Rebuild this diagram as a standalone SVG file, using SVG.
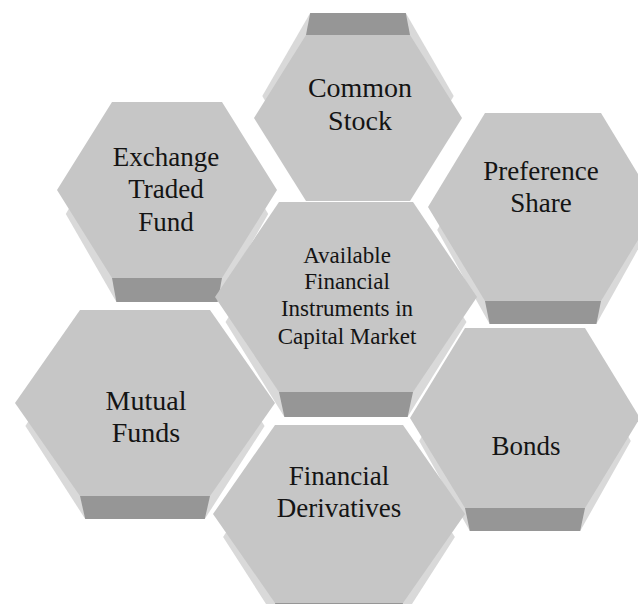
<svg xmlns="http://www.w3.org/2000/svg" width="638" height="604" viewBox="0 0 638 604">
<style>
.face{fill:#c6c6c6}
.side{fill:#d9d9d9}
.band{fill:#969696}
.lbl{font-family:"Liberation Serif","Times New Roman",serif;font-size:27px;fill:#141414;text-anchor:middle}
.sm{font-size:23px}
.big{font-size:28px}
</style>
<rect width="638" height="604" fill="#ffffff"/>
<g id="common-stock">
<polygon class="side" points="310.2,13 405.8,13 453.7,96 405.8,179 310.2,179 262.3,96"/>
<polygon class="band" points="306,35 410,35 405.8,13 310.2,13"/>
<polygon class="face" points="306,35 410,35 462,118 410,201 306,201 254,118"/>
<text class="lbl big" x="360" y="97">Common</text>
<text class="lbl big" x="360" y="130">Stock</text>
</g>
<g id="exchange-traded-fund">
<polygon class="side" points="116.4,126 217.6,126 268.2,214 217.6,302 116.4,302 65.8,214"/>
<polygon class="band" points="112,278 222,278 217.6,302 116.4,302"/>
<polygon class="face" points="112,102 222,102 277,190 222,278 112,278 57,190"/>
<text class="lbl" x="166" y="166">Exchange</text>
<text class="lbl" x="166" y="198">Traded</text>
<text class="lbl" x="166" y="231">Fund</text>
</g>
<g id="preference-share">
<polygon class="side" points="489.6,136 596.4,136 648.8,230 596.4,324 489.6,324 437.2,230"/>
<polygon class="band" points="485,301 601,301 596.4,324 489.6,324"/>
<polygon class="face" points="485,113 601,113 658,207 601,301 485,301 428,207"/>
<text class="lbl" x="541" y="180">Preference</text>
<text class="lbl" x="541" y="212">Share</text>
</g>
<g id="capital-market">
<polygon class="side" points="284.4,227 407.6,227 466.5,322 407.6,417 284.4,417 225.5,322"/>
<polygon class="band" points="279,392 413,392 407.6,417 284.4,417"/>
<polygon class="face" points="279,202 413,202 477,297 413,392 279,392 215,297"/>
<text class="lbl sm" x="347" y="263">Available</text>
<text class="lbl sm" x="347" y="289">Financial</text>
<text class="lbl sm" x="347" y="316">Instruments in</text>
<text class="lbl sm" x="347" y="344">Capital Market</text>
</g>
<g id="mutual-funds">
<polygon class="side" points="85.2,333 204.8,333 264.6,426 204.8,519 85.2,519 25.4,426"/>
<polygon class="band" points="80,496 210,496 204.8,519 85.2,519"/>
<polygon class="face" points="80,310 210,310 275,403 210,496 80,496 15,403"/>
<text class="lbl big" x="146" y="410">Mutual</text>
<text class="lbl big" x="146" y="442">Funds</text>
</g>
<g id="bonds">
<polygon class="side" points="469.8,351 580.2,351 630.8,441 580.2,531 469.8,531 419.2,441"/>
<polygon class="band" points="465,508 585,508 580.2,531 469.8,531"/>
<polygon class="face" points="465,328 585,328 640,418 585,508 465,508 410,418"/>
<text class="lbl" x="526" y="455">Bonds</text>
</g>
<g id="financial-derivatives">
<polygon class="side" points="280.1,448 397.9,448 454.9,537 397.9,626 280.1,626 223.1,537"/>
<polygon class="band" points="275,603 403,603 397.9,626 280.1,626"/>
<polygon class="face" points="275,425 403,425 465,514 403,603 275,603 213,514"/>
<text class="lbl" x="339" y="485">Financial</text>
<text class="lbl" x="339" y="517">Derivatives</text>
</g>
</svg>
